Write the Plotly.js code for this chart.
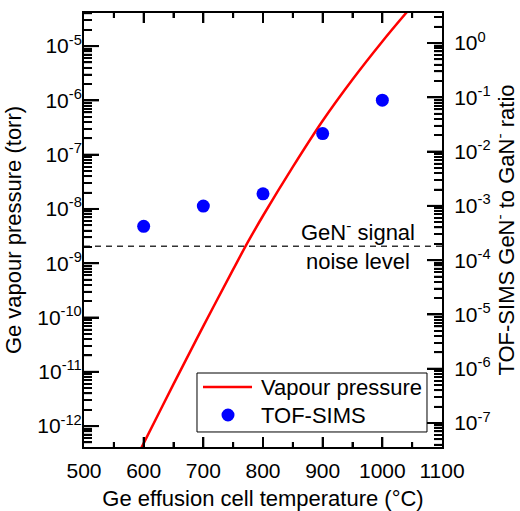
<!DOCTYPE html>
<html>
<head>
<meta charset="utf-8">
<script src="https://cdn.plot.ly/plotly-3.0.1.min.js"></script>
<style>html,body{margin:0;padding:0;background:#fff;}#chart{width:520px;height:511px;}</style>
</head>
<body>
<div id="chart"></div>
<script>
// Vapour pressure curve, left axis, torr
const curveTemp = [590, 597, 650, 700, 750, 775, 800, 850, 900, 950, 1000, 1040, 1050];
const curvePressure = [2.9e-13, 4.14e-13, 5.92e-12, 6.95e-11, 7.7e-10, 2.5e-9, 7.5e-9, 5.96e-8, 4.22e-7, 2.43e-6, 1.22e-5, 4.1e-5, 5.5e-5];

// TOF-SIMS points, right axis (GeN- / GaN- ratio)
const simsTemp = [600, 700, 800, 900, 1000];
const simsRatio = [4.2e-4, 9.9e-4, 1.67e-3, 2.15e-2, 8.85e-2];

// Noise level (left-axis units)
const noiseLevel = 2.06e-9;
const noiseTemp = [500, 1100];

// Tick labels
const leftTickExp = [-12, -11, -10, -9, -8, -7, -6, -5];
const rightTickExp = [-7, -6, -5, -4, -3, -2, -1, 0];
const xTicks = [500, 600, 700, 800, 900, 1000, 1100];

const xRange = [500, 1100];
const leftRange = [-12.385, -4.39];
const rightOffset = 4.943;
const rightRange = [leftRange[0] + rightOffset, leftRange[1] + rightOffset];

const supText = e => '10<sup>' + (e < 0 ? '-' + Math.abs(e) : e) + '</sup>';
const FONT = 'Liberation Sans, Arial, sans-serif';
const titleFont = {family: FONT, size: 22, color: '#000'};
const tickFont = {family: FONT, size: 21, color: '#000'};

const traces = [
  {x: curveTemp, y: curvePressure, mode: 'lines',
   line: {color: '#ff0000', width: 2.5, shape: 'spline'}, name: 'Vapour pressure', yaxis: 'y'},
  {x: noiseTemp, y: [noiseLevel, noiseLevel], mode: 'lines',
   line: {color: '#333333', width: 1.5, dash: '6px,5px'}, name: 'noise', yaxis: 'y'},
  {x: simsTemp, y: simsRatio, mode: 'markers',
   marker: {color: '#0000ff', size: 13}, name: 'TOF-SIMS', yaxis: 'y2'}
];

const MARGIN = {l: 84, r: 78, t: 13, b: 64};
const PW = 520 - MARGIN.l - MARGIN.r;
const PH = 511 - MARGIN.t - MARGIN.b;

// Tick marks (inside) as paper-referenced lines derived from the axis ranges
const tickShapes = [];
const tickLine = (x0, x1, y0, y1, w) => tickShapes.push({type: 'line', xref: 'paper', yref: 'paper',
  x0: x0, x1: x1, y0: y0, y1: y1, line: {color: '#000', width: w}, layer: 'above'});
function logAxisTicks(range, majors, side) {
  const span = range[1] - range[0];
  const pos = v => (v - range[0]) / span;
  const seg = len => side === 'left' ? [0, len / PW] : [1 - len / PW, 1];
  majors.forEach(e => { const s = seg(15); tickLine(s[0], s[1], pos(e), pos(e), 2); });
  for (let d = Math.floor(range[0]); d <= Math.ceil(range[1]); d++) {
    for (let m = 2; m <= 9; m++) {
      const v = d + Math.log10(m);
      if (v > range[0] && v < range[1]) { const s = seg(8); tickLine(s[0], s[1], pos(v), pos(v), 1.5); }
    }
  }
}
logAxisTicks(leftRange, leftTickExp, 'left');
logAxisTicks(rightRange, rightTickExp, 'right');
for (let t = xRange[0] + 50; t < xRange[1]; t += 50) {
  const p = (t - xRange[0]) / (xRange[1] - xRange[0]);
  const len = (t % 100 === 0 ? 10 : 5) / PH;
  tickLine(p, p, 0, len, 2);
  tickLine(p, p, 1, 1 - len, 2);
}

// Legend drawn as paper-referenced box, sample line, sample marker and texts
const LG = {x0: 0.3156, x1: 0.9581, y0: 0.0346, y1: 0.1705};
const legendShapes = [
  {type: 'rect', xref: 'paper', yref: 'paper', x0: LG.x0, x1: LG.x1, y0: LG.y0, y1: LG.y1,
   line: {color: '#000', width: 1}, fillcolor: '#fff', layer: 'above'},
  {type: 'line', xref: 'paper', yref: 'paper', x0: 0.3324, x1: 0.4693, y0: 0.1382, y1: 0.1382,
   line: {color: '#ff0000', width: 2.5}, layer: 'above'},
  {type: 'circle', xref: 'paper', yref: 'paper', x0: 0.3841, x1: 0.4204, y0: 0.0588, y1: 0.0887,
   line: {width: 0}, fillcolor: '#0000ff', layer: 'above'}
];
const legendTexts = [
  {xref: 'paper', yref: 'paper', x: 0.4888, y: 0.1382, xanchor: 'left', yanchor: 'middle',
   showarrow: false, text: traces[0].name, font: titleFont},
  {xref: 'paper', yref: 'paper', x: 0.4888, y: 0.0737, xanchor: 'left', yanchor: 'middle',
   showarrow: false, text: traces[2].name, font: titleFont}
];

const layout = {
  width: 520, height: 511,
  margin: MARGIN,
  showlegend: false,
  xaxis: {
    range: xRange, tickmode: 'array', tickvals: xTicks,
    ticks: 'inside', ticklen: 10, tickwidth: 2, tickcolor: 'black',
    showline: true, linecolor: 'black', linewidth: 2, mirror: 'ticks', showgrid: false, zeroline: false,
    tickfont: tickFont, ticklabelstandoff: 4,
    minor: {ticks: 'inside', ticklen: 5, dtick: 50, tick0: 500, tickcolor: 'black'},
    title: {text: 'Ge effusion cell temperature (°C)', font: titleFont, standoff: 14}
  },
  yaxis: {
    type: 'log', range: leftRange,
    tickmode: 'array', tickvals: leftTickExp.map(e => Math.pow(10, e)), ticktext: leftTickExp.map(supText),
    ticks: 'inside', ticklen: 15, tickwidth: 2, tickcolor: 'black',
    showline: true, linecolor: 'black', linewidth: 2, showgrid: false, zeroline: false,
    tickfont: tickFont, ticklabelstandoff: -4,
    minor: {ticks: 'inside', ticklen: 8, dtick: 'D1', tickcolor: 'black'},
    title: {text: 'Ge vapour pressure (torr)', font: titleFont, standoff: 10}
  },
  yaxis2: {
    type: 'log', range: rightRange, overlaying: 'y', side: 'right',
    tickmode: 'array', tickvals: rightTickExp.map(e => Math.pow(10, e)), ticktext: rightTickExp.map(supText),
    ticks: 'inside', ticklen: 15, tickwidth: 2, tickcolor: 'black',
    showline: true, linecolor: 'black', linewidth: 2, showgrid: false, zeroline: false,
    tickfont: tickFont, ticklabelstandoff: 6,
    minor: {ticks: 'inside', ticklen: 8, dtick: 'D1', tickcolor: 'black'},
    title: {text: 'TOF-SIMS GeN<sup>-</sup> to GaN<sup>-</sup> ratio', font: titleFont, standoff: 8}
  },
  shapes: tickShapes.concat(legendShapes),
  annotations: [
    {xref: 'x', yref: 'y', x: 959, y: Math.log10(noiseLevel), yshift: 15.5, showarrow: false,
     text: 'GeN<sup>-</sup> signal', font: titleFont},
    {xref: 'x', yref: 'y', x: 959, y: Math.log10(noiseLevel), yshift: -15.5, showarrow: false,
     text: 'noise level', font: titleFont}
  ].concat(legendTexts)
};

Plotly.newPlot('chart', traces, layout, {displayModeBar: false});
</script>
</body>
</html>
